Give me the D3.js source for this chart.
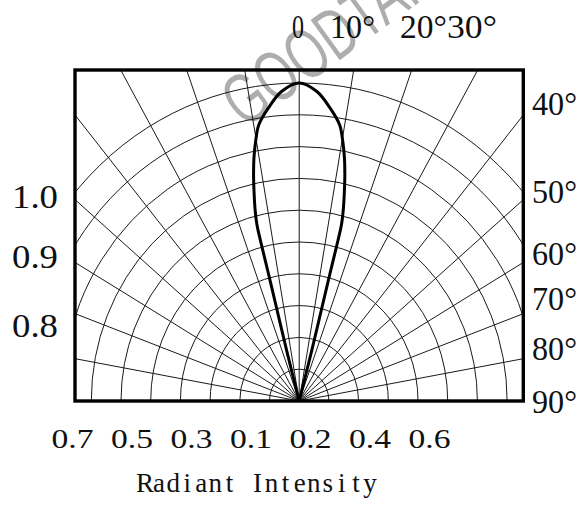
<!DOCTYPE html>
<html>
<head>
<meta charset="utf-8">
<script src="https://cdn.jsdelivr.net/npm/d3@7"></script>
<style>
  body { margin: 0; background: #fff; }
  text { font-family: "Liberation Serif", "DejaVu Serif", serif; fill: #111; }
</style>
</head>
<body>
<script>
// chart data
const ringValues = [0.1, 0.2, 0.3, 0.4, 0.5, 0.6, 0.7, 0.8, 0.9, 1.0];
const spokeAngles = [-80, -70, -60, -50, -40, -30, -20, -10, 0, 10, 20, 30, 40, 50, 60, 70, 80];
// half of the lobe, angle in degrees from the axis, relative intensity
const lobeAngle = [0, 3.5, 6.5, 8.9, 10.2, 11.3, 12.2, 13.0, 13.8, 14.4, 14.5, 14.5, 14.6, 14.8, 15.0, 15.0];
const lobeIntensity = [1.0, 0.975, 0.926, 0.879, 0.829, 0.778, 0.727, 0.676, 0.624, 0.572, 0.523, 0.415, 0.307, 0.2, 0.092, 0];
const topLabels = ["0", "10°", "20°", "30°"];
const rightLabels = ["40°", "50°", "60°", "70°", "80°", "90°"];
const leftLabels = ["1.0", "0.9", "0.8"];
const bottomLabels = ["0.7", "0.5", "0.3", "0.1", "0.2", "0.4", "0.6"];
const axisTitle = "Radiant Intensity";
const watermark = "GOODTAKE";

// layout
const W = 581, H = 507;
const box = {left: 75, right: 523.3, top: 70, bottom: 401};
const cx = 299.2;
const topLabelX = [292, 330, 400, 447], topLabelW = [12, 45, 47, 50];
const rightLabelY = [115, 203, 265, 310, 360, 413];
const leftLabelY = [208, 268, 337];

const svg = d3.select("body").append("svg").attr("width", W).attr("height", H);

const x = d3.scaleLinear().domain([-1, 1]).range([cx - 297, cx + 297]);
const y = d3.scaleLinear().domain([0, 1]).range([box.bottom, 83]);
const rad = (a) => a * Math.PI / 180;
const px = (a, r) => x(r * Math.sin(rad(a)));
const py = (a, r) => y(r * Math.cos(rad(a)));

svg.append("clipPath").attr("id", "plotclip")
  .append("rect")
  .attr("x", box.left).attr("y", box.top)
  .attr("width", box.right - box.left).attr("height", box.bottom - box.top);

const grid = svg.append("g").attr("clip-path", "url(#plotclip)");

grid.selectAll("ellipse")
  .data(ringValues)
  .enter()
  .append("ellipse")
  .attr("cx", x(0)).attr("cy", y(0))
  .attr("rx", (d) => x(d) - x(0))
  .attr("ry", (d) => y(0) - y(d))
  .attr("fill", "none").attr("stroke", "#1a1a1a").attr("stroke-width", 1);

grid.selectAll("line")
  .data(spokeAngles)
  .enter()
  .append("line")
  .attr("x1", x(0)).attr("y1", y(0))
  .attr("x2", (d) => px(d, 2)).attr("y2", (d) => py(d, 2))
  .attr("stroke", "#1a1a1a").attr("stroke-width", 1);

// full lobe: left side up to the apex, then down the right side
let lobe = [];
for (let i = lobeAngle.length - 1; i >= 0; i--) lobe.push([-lobeAngle[i], lobeIntensity[i]]);
for (let i = 1; i < lobeAngle.length; i++) lobe.push([lobeAngle[i], lobeIntensity[i]]);

svg.append("path")
  .attr("d", d3.line().x((d) => px(d[0], d[1])).y((d) => py(d[0], d[1])).curve(d3.curveCatmullRom.alpha(0.5))(lobe))
  .attr("fill", "none").attr("stroke", "#000").attr("stroke-width", 3)
  .attr("stroke-linejoin", "round");

svg.append("rect")
  .attr("x", box.left).attr("y", box.top)
  .attr("width", box.right - box.left).attr("height", box.bottom - box.top)
  .attr("fill", "none").attr("stroke", "#000").attr("stroke-width", 3.4);

// angle labels
svg.selectAll("text.top")
  .data(topLabels)
  .enter()
  .append("text").attr("class", "top")
  .attr("x", (d, i) => topLabelX[i]).attr("y", 38)
  .attr("font-size", 34)
  .attr("textLength", (d, i) => topLabelW[i]).attr("lengthAdjust", "spacingAndGlyphs")
  .text((d) => d);

svg.selectAll("text.right")
  .data(rightLabels)
  .enter()
  .append("text").attr("class", "right")
  .attr("x", 532).attr("y", (d, i) => rightLabelY[i])
  .attr("font-size", 34)
  .attr("textLength", 45).attr("lengthAdjust", "spacingAndGlyphs")
  .text((d) => d);

svg.selectAll("text.left")
  .data(leftLabels)
  .enter()
  .append("text").attr("class", "left")
  .attr("x", 12).attr("y", (d, i) => leftLabelY[i])
  .attr("font-size", 34)
  .attr("textLength", 46).attr("lengthAdjust", "spacingAndGlyphs")
  .text((d) => d);

const bx = d3.scalePoint().domain(bottomLabels).range([72.5, 429.5]);
svg.selectAll("text.bottom")
  .data(bottomLabels)
  .enter()
  .append("text").attr("class", "bottom")
  .attr("x", (d) => bx(d)).attr("y", 448)
  .attr("text-anchor", "middle")
  .attr("font-size", 28)
  .attr("textLength", 42).attr("lengthAdjust", "spacingAndGlyphs")
  .text((d) => d);

// axis title, one fixed-width cell per character like the original mono font
const title = svg.append("text").attr("y", 492).attr("font-size", 27)
  .attr("text-anchor", "middle");
title.selectAll("tspan")
  .data(axisTitle.split(""))
  .enter()
  .append("tspan")
  .attr("x", (d, i) => 138 + 14.06 * (i + 0.5))
  .text((d) => d);

// watermark
svg.append("text")
  .attr("transform", "translate(340,29) rotate(-36)")
  .attr("text-anchor", "middle").attr("dominant-baseline", "central")
  .style("font-family", "'Liberation Sans', Arial, sans-serif")
  .style("fill", "#000").attr("fill-opacity", 0.32)
  .attr("font-size", 72)
  .attr("textLength", 272).attr("lengthAdjust", "spacingAndGlyphs")
  .text(watermark);
</script>
</body>
</html>
